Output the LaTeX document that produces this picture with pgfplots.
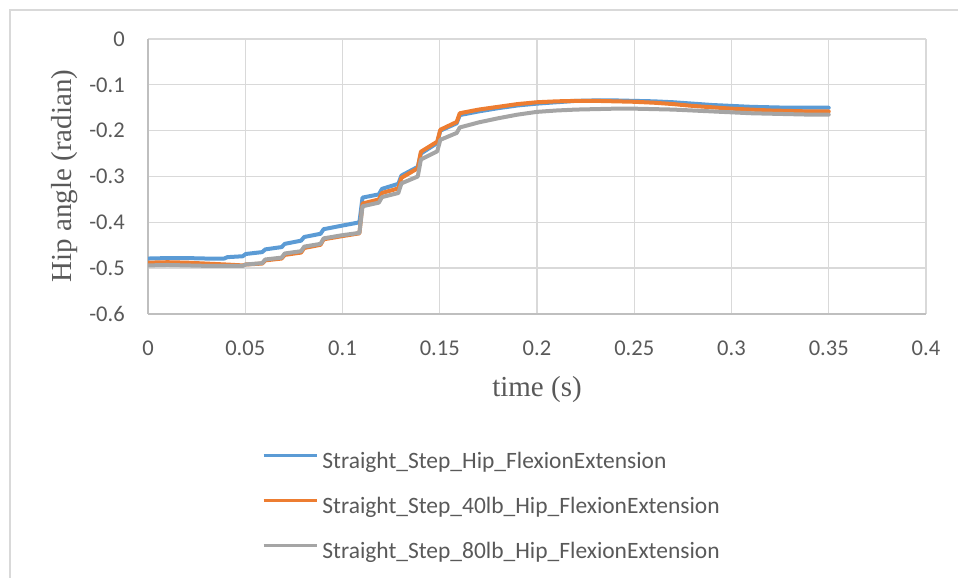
\documentclass[border=0pt]{standalone}
\usepackage{pgfplots}
\pgfplotsset{compat=1.18}
\usepackage{fontspec}
\setmainfont{Liberation Serif}
\newfontfamily\calibri{Carlito}
\definecolor{sblue}{HTML}{5B9BD5}
\definecolor{sorange}{HTML}{ED7D31}
\definecolor{sgray}{HTML}{A5A5A5}
\definecolor{textgray}{HTML}{595959}
\definecolor{gridgray}{HTML}{D9D9D9}
\definecolor{axisgray}{HTML}{BFBFBF}

\pgfplotstableread{
t y
0 -0.479
0.01 -0.478
0.02 -0.478
0.03 -0.479
0.0392 -0.479
0.0408 -0.476
0.0487 -0.474
0.0503 -0.469
0.0587 -0.465
0.0603 -0.459
0.0687 -0.454
0.0703 -0.447
0.0787 -0.440
0.0803 -0.432
0.0887 -0.425
0.0903 -0.415
0.1 -0.407
0.1087 -0.400
0.1103 -0.346
0.1187 -0.339
0.1203 -0.327
0.1287 -0.316
0.1303 -0.298
0.1387 -0.279
0.1403 -0.250
0.1487 -0.227
0.1503 -0.200
0.1587 -0.184
0.1603 -0.166
0.17 -0.158
0.18 -0.151
0.19 -0.145
0.2 -0.141
0.21 -0.138
0.22 -0.135
0.23 -0.134
0.24 -0.134
0.25 -0.135
0.26 -0.136
0.27 -0.138
0.28 -0.141
0.29 -0.144
0.3 -0.146
0.31 -0.148
0.32 -0.149
0.33 -0.150
0.34 -0.150
0.35 -0.150
}\blue

\pgfplotstableread{
t y
0 -0.488
0.01 -0.487
0.02 -0.488
0.03 -0.490
0.04 -0.492
0.0487 -0.494
0.0503 -0.492
0.0587 -0.490
0.0603 -0.483
0.0687 -0.479
0.0703 -0.471
0.0787 -0.466
0.0803 -0.456
0.0887 -0.449
0.0903 -0.437
0.1 -0.430
0.1087 -0.424
0.1103 -0.359
0.1187 -0.350
0.1203 -0.336
0.1287 -0.326
0.1303 -0.303
0.1387 -0.282
0.1403 -0.246
0.1487 -0.224
0.1503 -0.198
0.1587 -0.181
0.1603 -0.162
0.17 -0.154
0.18 -0.148
0.19 -0.142
0.2 -0.138
0.21 -0.136
0.22 -0.135
0.23 -0.135
0.24 -0.136
0.25 -0.137
0.26 -0.139
0.27 -0.142
0.28 -0.146
0.29 -0.149
0.3 -0.152
0.31 -0.154
0.32 -0.156
0.33 -0.157
0.34 -0.158
0.35 -0.158
}\orange

\pgfplotstableread{
t y
0 -0.494
0.01 -0.493
0.02 -0.494
0.03 -0.495
0.04 -0.495
0.0487 -0.495
0.0503 -0.492
0.0587 -0.489
0.0603 -0.481
0.0687 -0.477
0.0703 -0.468
0.0787 -0.463
0.0803 -0.453
0.0887 -0.447
0.0903 -0.435
0.1 -0.428
0.1087 -0.423
0.1103 -0.365
0.1187 -0.357
0.1203 -0.345
0.1287 -0.336
0.1303 -0.315
0.1387 -0.300
0.1403 -0.263
0.1487 -0.245
0.1503 -0.220
0.1587 -0.205
0.1603 -0.193
0.17 -0.182
0.18 -0.173
0.19 -0.165
0.2 -0.159
0.21 -0.156
0.22 -0.154
0.23 -0.153
0.24 -0.152
0.25 -0.152
0.26 -0.153
0.27 -0.154
0.28 -0.156
0.29 -0.158
0.3 -0.160
0.31 -0.162
0.32 -0.163
0.33 -0.164
0.34 -0.165
0.35 -0.165
}\gray

\begin{document}
\begin{tikzpicture}
\useasboundingbox (0,0) rectangle (718.5pt,433.5pt);
\draw[color=gridgray, line width=1.2pt] (7.5pt,0) -- (7.5pt,426pt) -- (718.5pt,426pt);
\begin{axis}[
  at={(111pt,198pt)}, anchor=south west,
  scale only axis, width=583.5pt, height=206.25pt,
  xmin=0, xmax=0.4, ymin=-0.6, ymax=0,
  xtick={0,0.05,0.1,0.15,0.2,0.25,0.3,0.35,0.4},
  xticklabels={0,0.05,0.1,0.15,0.2,0.25,0.3,0.35,0.4},
  ytick={-0.6,-0.5,-0.4,-0.3,-0.2,-0.1,0},
  yticklabels={-0.6,-0.5,-0.4,-0.3,-0.2,-0.1,0},
  grid=major,
  major grid style={color=gridgray, line width=1pt},
  major tick length=0pt,
  axis x line*=bottom, axis y line*=left,
  axis line style={color=axisgray, line width=1pt},
  tick label style={font=\calibri\fontsize{16.9}{18}\selectfont, color=textgray},
  xticklabel style={anchor=north, inner sep=0pt, yshift=-20.25pt},
  yticklabel style={anchor=east, inner sep=0pt, xshift=-17.25pt},
  legend style={at={(axis description cs:0.1465,-0.5018)}, anchor=north west,
    draw=none, fill=none, inner sep=0pt, outer sep=0pt,
    row sep=16.75pt, column sep=3pt,
    nodes={inner sep=0pt, text height=12.5pt, text depth=4.5pt,
      font=\calibri\fontsize{17.6}{19}\selectfont, text=textgray}},
  legend cell align=left,
  legend image code/.code={\draw[#1, line width=2.6pt, line cap=butt] (0pt,5.7pt) -- (39.75pt,5.7pt);},
  every axis plot/.append style={line width=3pt, line join=round, line cap=round},
]
\addplot[color=sblue, no marks] table[x=t,y=y] {\blue};
\addlegendentry{Straight\_Step\_Hip\_FlexionExtension}
\addplot[color=sorange, no marks] table[x=t,y=y] {\orange};
\addlegendentry{Straight\_Step\_40lb\_Hip\_FlexionExtension}
\addplot[color=sgray, no marks] table[x=t,y=y] {\gray};
\addlegendentry{Straight\_Step\_80lb\_Hip\_FlexionExtension}
\end{axis}
\node[rotate=90, font=\fontsize{21.75}{24}\selectfont, text=textgray] at (48.75pt,301.5pt) {Hip angle (radian)};
\node[anchor=base, font=\fontsize{21.75}{24}\selectfont, text=textgray] at (402.75pt,135.75pt) {time (s)};
\end{tikzpicture}
\end{document}
